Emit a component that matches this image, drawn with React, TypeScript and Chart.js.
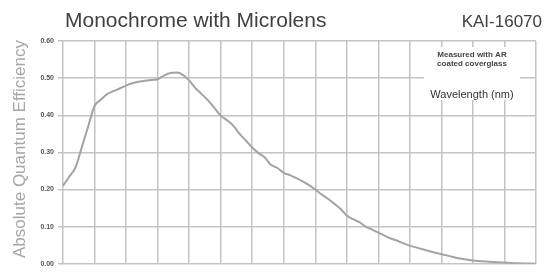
import React, { useEffect, useRef } from "react";
import { Chart, registerables } from "chart.js";

Chart.register(...registerables);

const wavelengths = [
  350, 360, 370, 380, 390, 400, 410, 420, 430, 440, 450, 460, 470, 480, 490,
  500, 510, 520, 530, 540, 550, 560, 570, 580, 590, 600, 610, 620, 630, 640,
  650, 660, 670, 680, 690, 700, 710, 720, 730, 740, 750, 760, 770, 780, 790,
  800, 810, 820, 830, 840, 850, 860, 870, 880, 890, 900, 920, 940, 960, 980,
  1000, 1020, 1040, 1060, 1080, 1100,
];
const qe = [
  0.21, 0.235, 0.26, 0.315, 0.37, 0.425, 0.442, 0.457, 0.465, 0.472, 0.48,
  0.486, 0.49, 0.493, 0.495, 0.497, 0.507, 0.514, 0.515, 0.509, 0.494, 0.473,
  0.457, 0.44, 0.42, 0.399, 0.387, 0.372, 0.35, 0.332, 0.313, 0.298, 0.286,
  0.266, 0.258, 0.245, 0.239, 0.231, 0.222, 0.212, 0.2, 0.187, 0.175, 0.162,
  0.148, 0.13, 0.12, 0.112, 0.1, 0.092, 0.084, 0.076, 0.068, 0.062, 0.055,
  0.049, 0.039, 0.03, 0.022, 0.014, 0.009, 0.006, 0.004, 0.002, 0.001, 0.0,
];
const yTicks = [0, 0.1, 0.2, 0.3, 0.4, 0.5, 0.6];

const titleText = "Monochrome with Microlens";
const modelText = "KAI-16070";
const yTitleText = "Absolute Quantum Efficiency";
const noteLines = ["Measured with AR", "coated coverglass"];
const xTitleText = "Wavelength (nm)";

const FONT = "'Liberation Sans', Arial, sans-serif";

const textPlugin = {
  id: "texts",
  beforeDatasetsDraw(chart: any) {
    const ctx = chart.ctx;
    ctx.save();
    ctx.fillStyle = "#ffffff";
    ctx.fillRect(424, 47, 96, 53);
    ctx.fillStyle = "#444444";
    ctx.textAlign = "center";
    ctx.textBaseline = "middle";
    ctx.font = `bold 8px ${FONT}`;
    ctx.fillText(noteLines[0], 472, 55);
    ctx.fillText(noteLines[1], 472, 63.5);
    ctx.fillStyle = "#333333";
    ctx.font = `11px ${FONT}`;
    ctx.fillText(xTitleText, 472, 95);
    ctx.restore();
  },
  afterDraw(chart: any) {
    const ctx = chart.ctx;
    ctx.save();
    ctx.textBaseline = "alphabetic";
    ctx.fillStyle = "#404040";
    ctx.font = `21px ${FONT}`;
    ctx.textAlign = "left";
    ctx.fillText(titleText, 65, 27);
    ctx.font = `17px ${FONT}`;
    ctx.textAlign = "right";
    ctx.fillText(modelText, 542, 27);
    ctx.translate(25, 149);
    ctx.rotate(-Math.PI / 2);
    ctx.textAlign = "center";
    ctx.fillStyle = "#a6a6a6";
    ctx.font = `17px ${FONT}`;
    ctx.fillText(yTitleText, 0, 0);
    ctx.restore();
  },
};

export default function App() {
  const ref = useRef<HTMLCanvasElement | null>(null);
  useEffect(() => {
    if (!ref.current) return;
    const chart = new Chart(ref.current, {
      type: "line",
      data: {
        datasets: [
          {
            data: wavelengths.map((w, i) => ({ x: w, y: qe[i] })),
            borderColor: "#a3a3a3",
            borderWidth: 2,
            pointRadius: 0,
            cubicInterpolationMode: "monotone",
            fill: false,
          },
        ],
      },
      options: {
        animation: false,
        responsive: false,
        layout: { padding: { top: 41, right: 8, bottom: 5, left: 0 } },
        plugins: { legend: { display: false }, tooltip: { enabled: false } },
        scales: {
          x: {
            type: "linear",
            min: 350,
            max: 1100,
            ticks: { display: false, stepSize: 50 },
            grid: { color: "#c4c4c4", lineWidth: 1.5, drawTicks: false },
            border: { display: false },
            afterFit(scale: any) {
              scale.height = 0;
            },
          },
          y: {
            min: 0,
            max: 0.6,
            afterBuildTicks(scale: any) {
              scale.ticks = yTicks.map((v) => ({ value: v }));
            },
            ticks: {
              padding: 4,
              color: "#555555",
              font: { family: FONT, size: 7, weight: "bold" },
              callback: (v: any) => Number(v).toFixed(2),
            },
            grid: { color: "#c4c4c4", lineWidth: 1.5, tickLength: 5 },
            border: { display: false },
            afterFit(scale: any) {
              scale.width = 63;
            },
          },
        },
      },
      plugins: [textPlugin],
    } as any);
    return () => chart.destroy();
  }, []);
  return (
    <div style={{ position: "absolute", left: 0, top: 0, width: 544, height: 272 }}>
      <canvas ref={ref} width={544} height={272} />
    </div>
  );
}
